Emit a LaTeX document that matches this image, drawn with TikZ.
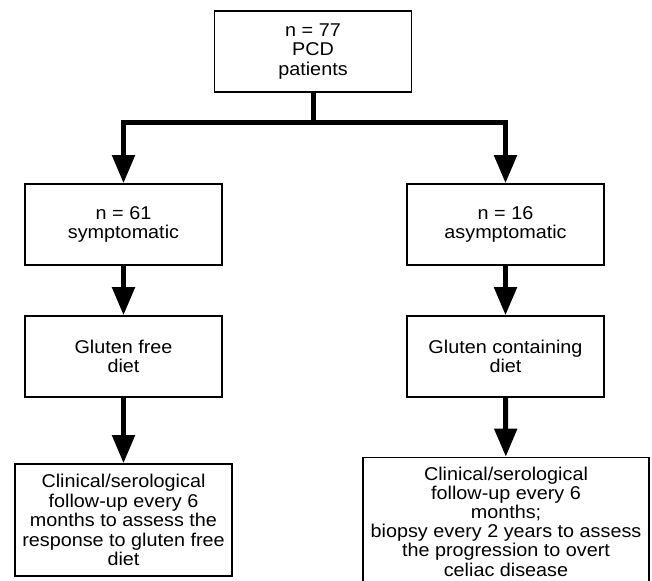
\documentclass[tikz,border=0pt]{standalone}
\usepackage{fontspec}
\setmainfont[FakeStretch=1.07]{Liberation Sans}
\usetikzlibrary{arrows.meta}
\begin{document}
\begin{tikzpicture}[x=1pt,y=-1pt]

\tikzset{box/.style = {shape=rectangle,draw,line width=1.6pt,align=center,inner sep=0pt,minimum width=197pt,minimum height=81pt,font=\fontsize{18.5}{19.5}\selectfont}}
\tikzset{trunk/.style = {line width=5pt}}
\tikzset{edge/.style = {line width=5pt,-{Triangle[length=28pt,width=22pt]}}}
\useasboundingbox (0,0) rectangle (652,580);
%boxes
\node[box] (pcd) at (313,51.5) {n = 77\\PCD\\patients};
\node[box] (sym) at (123.5,224.5) {n = 61\\symptomatic};
\node[box] (asym) at (505.5,224.5) {n = 16\\asymptomatic};
\node[box] (gfd) at (123.5,356.5) {Gluten free\\diet};
\node[box] (gcd) at (505.5,356.5) {Gluten containing\\diet};
\node[box, minimum width=217pt, minimum height=112pt] (fusym) at (123.5,520) {Clinical/serological\\follow-up every 6\\months to assess the\\response to gluten free\\diet};
\node[box, minimum width=286pt, minimum height=128pt, font=\fontsize{18.5}{19.2}\selectfont] (fuasym) at (506,521.5) {Clinical/serological\\follow-up every 6\\months;\\biopsy every 2 years to assess\\the progression to overt\\celiac disease};
%edges
\coordinate (split) at (313,123);
\draw [trunk] (pcd.south) -- (split);
\draw [edge] (split) -| (sym.north);
\draw [edge] (split) -| (asym.north);
\draw [edge] (sym) -- (gfd);
\draw [edge] (asym) -- (gcd);
\draw [edge] (gfd) -- (fusym);
\draw [edge] (gcd) -- (fuasym);

\end{tikzpicture}
\end{document}
